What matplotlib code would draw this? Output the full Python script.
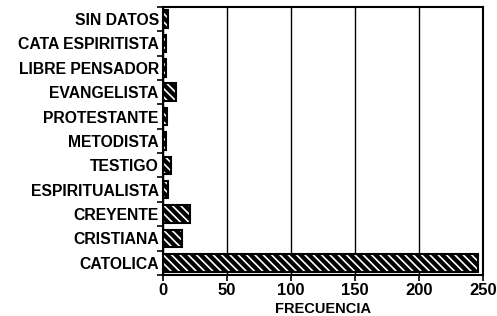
import matplotlib
matplotlib.use("Agg")
import matplotlib.pyplot as plt
import numpy as np

categories = ["CATOLICA", "CRISTIANA", "CREYENTE", "ESPIRITUALISTA", "TESTIGO",
              "METODISTA", "PROTESTANTE", "EVANGELISTA", "LIBRE PENSADOR",
              "CATA ESPIRITISTA", "SIN DATOS"]
values = [246, 15, 21, 4, 6, 2, 3, 10, 2, 2, 4]
xticks = [0, 50, 100, 150, 200, 250]

plt.rcParams['font.family'] = ['Liberation Sans', 'DejaVu Sans']
plt.rcParams['font.weight'] = 'bold'
plt.rcParams['hatch.linewidth'] = 1.2

fig = plt.figure(figsize=(4.97, 3.16), dpi=100)
ax = fig.add_axes([0.328, 0.13, 0.644, 0.848])

y = np.arange(len(categories))
ax.barh(y, values, height=0.72, color='black', edgecolor='white', hatch='\\\\\\\\', linewidth=0, zorder=3)
ax.barh(y, values, height=0.72, fill=False, edgecolor='black', linewidth=1.5, zorder=4)

ax.set_xlim(0, 250)
ax.set_ylim(-0.5, len(categories) - 0.5)
ax.set_xticks(xticks)
ax.set_yticks(y)
ax.set_yticklabels(categories, fontsize=11.3, fontweight='bold')
ax.tick_params(axis='y', length=0, pad=3)
ax.set_yticks(np.arange(-0.5, len(categories), 1.0), minor=True)
ax.tick_params(axis='y', which='minor', length=4, width=1.2, direction='out')
ax.tick_params(axis='x', length=4, width=1.2, direction='out', labelsize=12, pad=2)
for lab in ax.get_xticklabels():
    lab.set_fontweight('bold')
ax.set_xlabel("FRECUENCIA", fontsize=10.5, fontweight='bold', labelpad=3)
ax.grid(axis='x', color='black', linewidth=1.0, zorder=1)
ax.set_axisbelow(True)
for s in ax.spines.values():
    s.set_linewidth(1.5)

fig.savefig("out.png", dpi=100)
